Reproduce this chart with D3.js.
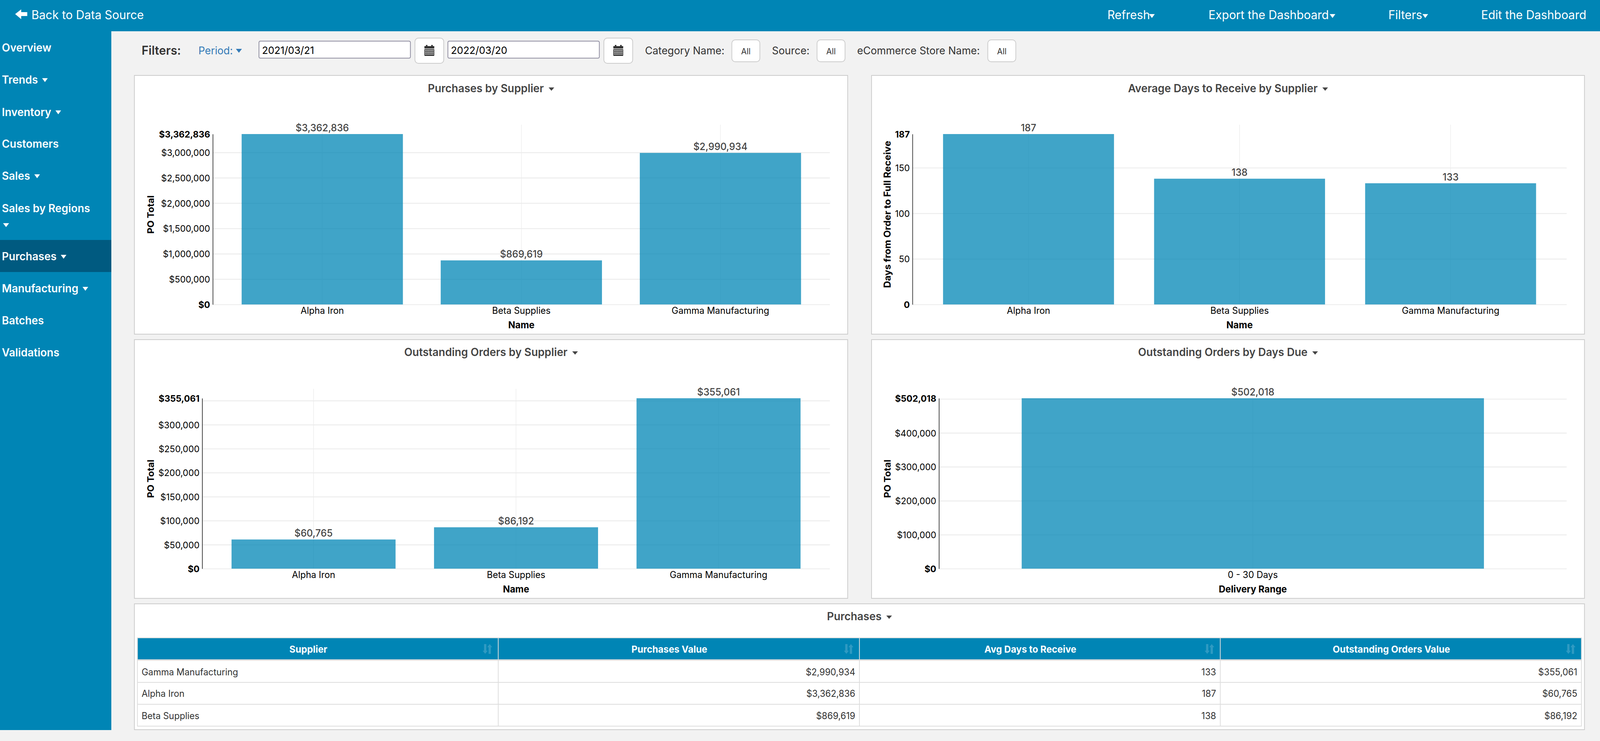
<!DOCTYPE html>
<html><head><meta charset="utf-8">
<script src="https://cdnjs.cloudflare.com/ajax/libs/d3/7.8.5/d3.min.js"></script>
<style>
html,body{margin:0;padding:0;background:#f2f2f2;overflow:hidden;width:100%;height:100%}
svg{display:block;width:100vw;height:100vh}
text{font-family:Inter,Roboto,sans-serif}
</style></head><body>
<svg id="page" viewBox="0 0 4226 1896" preserveAspectRatio="none"></svg>
<script>
// ---- data ----
const suppliers = ["Alpha Iron", "Beta Supplies", "Gamma Manufacturing"];
const purchasesValue = [3362836, 869619, 2990934];
const avgDaysToReceive = [187, 138, 133];
const outstandingValue = [60765, 86192, 355061];
const dueRanges = ["0 - 30 Days"];
const dueValue = [502018];
const purchasesGridTicks = [0, 500000, 1000000, 1500000, 2000000, 2500000, 3000000];
const daysGridTicks = [0, 50, 100, 150];
const outstandingGridTicks = [0, 50000, 100000, 150000, 200000, 250000, 300000, 350000];
const dueGridTicks = [0, 100000, 200000, 300000, 400000, 500000];
const outstandingHiddenTicks = [350000];
const dueHiddenTicks = [500000];
const navItems = ["Overview", "Trends", "Inventory", "Customers", "Sales", "Sales by Regions", "Purchases", "Manufacturing", "Batches", "Validations"];
const navWithCaret = ["Trends", "Inventory", "Sales", "Purchases", "Manufacturing"];
const topMenus = ["Refresh", "Export the Dashboard", "Filters", "Edit the Dashboard"];
const startDate = "2021/03/21";
const endDate = "2022/03/20";
const tableHeaders = ["Supplier", "Purchases Value", "Avg Days to Receive", "Outstanding Orders Value"];
const tableSuppliers = ["Gamma Manufacturing", "Alpha Iron", "Beta Supplies"];
const tablePurchases = [2990934, 3362836, 869619];
const tableDays = [133, 187, 138];
const tableOutstanding = [355061, 60765, 86192];

// ---- helpers ----
const BLUE = "#0085b5";
const svg = d3.select("#page");
const money = v => "$" + d3.format(",")(v);
const probe = svg.append("text").attr("visibility", "hidden");
function fit(s, weight, w) {
  probe.attr("font-size", 100).attr("font-weight", weight).text(s);
  return 100 * w / probe.node().getComputedTextLength();
}
const SZ = {
  top: fit("Export the Dashboard", 400, 318),
  nav: fit("Manufacturing", 600, 202),
  filterBold: fit("Filters:", 600, 104),
  period: fit("Period:", 400, 91),
  date: fit(endDate, 400, 149),
  filterLabel: fit("eCommerce Store Name:", 400, 324),
  all: fit("All", 400, 25),
  title: fit("Average Days to Receive by Supplier", 600, 501),
  tick: fit("$3,000,000", 400, 129.3),
  value: fit("$3,362,836", 500, 141),
  cat: fit("Gamma Manufacturing", 400, 258),
  name: fit("Delivery Range", 700, 180),
  th: fit("Outstanding Orders Value", 700, 310),
  td: fit("Gamma Manufacturing", 400, 255)
};
function label(g, x, y, s, o = {}) {
  return g.append("text").attr("x", x).attr("y", y).attr("dy", "0.36em")
    .attr("text-anchor", o.anchor || "start")
    .attr("font-size", o.size || SZ.tick)
    .attr("font-weight", o.weight || 400)
    .attr("fill", o.fill || "#333").text(s);
}
function caret(g, x, y, w, h, fill) {
  g.append("path").attr("d", `M${x},${y}h${w}l${-w / 2},${h}z`).attr("fill", fill);
}

// ---- chrome ----
svg.append("rect").attr("width", 4226).attr("height", 1896).attr("fill", "#f2f2f2");
svg.append("rect").attr("width", 4226).attr("height", 80).attr("fill", BLUE);
svg.append("rect").attr("y", 80).attr("width", 294).attr("height", 1788).attr("fill", BLUE);
svg.append("rect").attr("y", 614).attr("width", 294).attr("height", 82).attr("fill", "#005a80");

const top_ = svg.append("g");
top_.append("path").attr("d", "M40,36 L56,24 V31 H72 V41 H56 V49 Z").attr("fill", "#fff");
label(top_, 83, 37.5, "Back to Data Source", { size: SZ.top, fill: "#fff" });
const topX = [2925, 3192, 3667, 3912], topCaretX = [3035, 3512, 3757];
topMenus.forEach((m, i) => {
  label(top_, topX[i], 37.5, m, { size: SZ.top, fill: "#fff" });
  if (i < 3) caret(top_, topCaretX[i], 36, 15, 10, "#fff");
});

const navY = [122, 204, 286.5, 368, 450, 533, 656, 738, 820, 901.6];
const nav = svg.append("g");
navItems.forEach((n, i) => {
  const t = label(nav, 5, navY[i], n, { size: SZ.nav, weight: 600, fill: "#fff" });
  if (navWithCaret.includes(n)) {
    const w = t.node().getComputedTextLength();
    caret(nav, 5 + w + 11, navY[i] - 4, 15, 10, "#fff");
  }
});
caret(nav, 8, 571, 16, 10, "#fff");

// ---- filters ----
const fl = svg.append("g");
function btn(x, y, w, h, r) {
  fl.append("rect").attr("x", x + 1).attr("y", y + 1).attr("width", w - 2).attr("height", h - 2).attr("rx", r)
    .attr("fill", "#fff").attr("stroke", "#ccc").attr("stroke-width", 2);
}
function calendar(x, y) {
  const g = fl.append("g").attr("transform", `translate(${x},${y})`);
  g.append("path").attr("fill", "#333").attr("d", "M0,3h4v-3h4v3h10v-3h4v3h4v6h-26z");
  g.append("rect").attr("y", 10.5).attr("width", 26).attr("height", 17.5).attr("rx", 1).attr("fill", "#333");
  for (let r = 0; r < 3; r++) for (let c = 0; c < 6; c++)
    g.append("rect").attr("x", 2 + c * 3.9).attr("y", 12.5 + r * 4.6).attr("width", 2.6).attr("height", 3).attr("fill", "#ddd");
}
label(fl, 374, 129, "Filters:", { size: SZ.filterBold, weight: 600, fill: "#333" });
label(fl, 524, 129, "Period:", { size: SZ.period, fill: "#337ab7" });
caret(fl, 623, 125, 16, 10, "#337ab7");
[[683, 402, startDate], [1182, 402, endDate]].forEach(([x, w, d]) => {
  fl.append("rect").attr("x", x + 1).attr("y", 105.3).attr("width", w - 2).attr("height", 43.4).attr("rx", 3.5)
    .attr("fill", "#fff").attr("stroke", "#8f8da0").attr("stroke-width", 2);
  label(fl, x + 9, 129, d, { size: SZ.date, fill: "#000" });
  btn(x + 412, 96.5, 78, 66.5, 9);
  calendar(x + 438, 115);
});
[[1703.6, "Category Name:", 1932], [2039, "Source:", 2157], [2264, "eCommerce Store Name:", 2608]].forEach(([x, s, bx]) => {
  label(fl, x, 129, s, { size: SZ.filterLabel, fill: "#333" });
  btn(bx, 101, 76, 58, 9);
  label(fl, bx + 38, 131, "All", { size: SZ.all, anchor: "middle", fill: "#333" });
});

// ---- panels ----
function panel(x0, y0, x1, y1, title, titleY) {
  const g = svg.append("g");
  g.append("rect").attr("x", x0 + 1).attr("y", y0 + 1).attr("width", x1 - x0 - 2).attr("height", y1 - y0 - 2)
    .attr("fill", "#fff").attr("stroke", "#ccc").attr("stroke-width", 2);
  const t = label(g, 0, titleY, title, { size: SZ.title, weight: 600, fill: "#444" });
  const w = t.node().getComputedTextLength();
  const sx = (x0 + x1) / 2 - (w + 27.5) / 2;
  t.attr("x", sx);
  caret(g, sx + w + 12.5, titleY - 2, 15, 8.5, "#444");
  return g;
}

// ---- bar charts ----
function barChart(o) {
  const g = panel(o.box[0], o.box[1], o.box[2], o.box[3], o.title, o.titleY);
  const [L, R, T, B] = o.plot;
  const x = d3.scaleBand().domain(o.cats).range([L, R]).paddingInner(0.19).paddingOuter(0.145);
  const y = d3.scaleLinear().domain([0, d3.max(o.vals)]).range([B, T]);

  // vertical grid
  g.append("g").attr("transform", `translate(0,${B})`)
    .call(d3.axisBottom(x).tickSize(-(B - T + 24)).tickFormat(""))
    .call(s => s.select(".domain").remove())
    .call(s => s.selectAll("line").attr("stroke", "#ececec").attr("stroke-width", 1.4));
  // horizontal grid
  g.append("g").attr("transform", `translate(${L},0)`)
    .call(d3.axisLeft(y).tickValues(o.grid).tickSize(-(R - L)).tickFormat(""))
    .call(s => s.select(".domain").remove())
    .call(s => s.selectAll("line").attr("stroke", "#ebebeb").attr("stroke-width", 2.2));

  // bars
  g.selectAll("rect.bar").data(o.vals).enter().append("rect").attr("class", "bar")
    .attr("x", (d, i) => x(o.cats[i])).attr("width", x.bandwidth())
    .attr("y", d => y(d)).attr("height", d => B - y(d))
    .attr("fill", BLUE).attr("fill-opacity", 0.75);

  // value labels
  g.selectAll("text.val").data(o.vals).enter().append("text").attr("class", "val")
    .attr("x", (d, i) => x(o.cats[i]) + x.bandwidth() / 2).attr("y", d => y(d) - 16.5).attr("dy", "0.36em")
    .attr("text-anchor", "middle").attr("font-size", SZ.value).attr("font-weight", 500)
    .attr("fill", "#444").text(d => o.fmt(d));

  // y axis
  const hidden = o.hidden || [];
  const labelled = o.grid.filter(t => !hidden.includes(t)).concat([d3.max(o.vals)]);
  const ya = g.append("g").attr("transform", `translate(${L},0)`)
    .call(d3.axisLeft(y).tickValues(labelled).tickSize(0).tickPadding(7).tickFormat(o.fmt));
  ya.select(".domain").attr("stroke", "#444").attr("stroke-width", 2);
  ya.selectAll("text").attr("font-size", SZ.tick).attr("fill", "#000").attr("dy", "0.36em")
    .attr("font-family", "Inter,Roboto,sans-serif")
    .attr("font-weight", d => (d === 0 || d === d3.max(o.vals)) ? 700 : 400);

  // x axis labels
  const xa = g.append("g").attr("transform", `translate(0,${B})`)
    .call(d3.axisBottom(x).tickSize(0));
  xa.select(".domain").remove();
  xa.selectAll("text").attr("y", 15).attr("dy", "0.36em").attr("font-size", SZ.cat).attr("fill", "#000")
    .attr("font-family", "Inter,Roboto,sans-serif");

  // axis titles
  label(g, (L + R) / 2, o.nameY, o.xTitle, { size: SZ.name, weight: 700, anchor: "middle", fill: "#000" });
  g.append("text").attr("transform", `translate(${o.yTitleX},${o.yTitleY}) rotate(-90)`)
    .attr("dy", "0.36em").attr("text-anchor", "middle").attr("font-size", fit(o.yTitle, 700, o.yTitleLen)).attr("font-weight", 700)
    .attr("fill", "#000").text(o.yTitle);
}

barChart({ box: [354, 192, 2240, 856], title: "Purchases by Supplier", titleY: 225.7, plot: [562, 2192, 343, 779],
  cats: suppliers, vals: purchasesValue, grid: purchasesGridTicks, fmt: money, xTitle: "Name", nameY: 831,
  yTitle: "PO Total", yTitleLen: 98, yTitleX: 397.5, yTitleY: 549 });
barChart({ box: [2301, 192, 4186, 856], title: "Average Days to Receive by Supplier", titleY: 225.7, plot: [2410, 4138, 343, 779],
  cats: suppliers, vals: avgDaysToReceive, grid: daysGridTicks, fmt: d3.format("d"), xTitle: "Name", nameY: 831,
  yTitle: "Days from Order to Full Receive", yTitleLen: 377, yTitleX: 2343.5, yTitleY: 548.5 });
barChart({ box: [354, 868, 2240, 1532], title: "Outstanding Orders by Supplier", titleY: 901, plot: [534, 2192, 1019, 1455],
  cats: suppliers, vals: outstandingValue, grid: outstandingGridTicks, hidden: outstandingHiddenTicks, fmt: money, xTitle: "Name", nameY: 1507,
  yTitle: "PO Total", yTitleLen: 98, yTitleX: 397.5, yTitleY: 1225 });
barChart({ box: [2301, 868, 4186, 1532], title: "Outstanding Orders by Days Due", titleY: 901, plot: [2480, 4138, 1019, 1455],
  cats: dueRanges, vals: dueValue, grid: dueGridTicks, hidden: dueHiddenTicks, fmt: money, xTitle: "Delivery Range", nameY: 1507,
  yTitle: "PO Total", yTitleLen: 98, yTitleX: 2343.5, yTitleY: 1225 });

// ---- table ----
const tp = panel(354, 1544, 4186, 1868, "Purchases", 1577);
const colX = [363, 1316, 2270, 3223, 4177];
const rowLines = [1690, 1746, 1802, 1858];
const rowY = [1719, 1775, 1832];
const tw = colX[4] - colX[0];
tp.append("rect").attr("x", colX[0]).attr("y", 1631).attr("width", tw).attr("height", 2).attr("fill", "#ddd");
tp.append("rect").attr("x", colX[0]).attr("y", 1633).attr("width", tw).attr("height", 54).attr("fill", BLUE);
tp.append("rect").attr("x", colX[0]).attr("y", 1687).attr("width", tw).attr("height", 3.5).attr("fill", "#ddd");
rowLines.slice(1).forEach(y => tp.append("rect").attr("x", colX[0]).attr("y", y - 1).attr("width", tw).attr("height", 2).attr("fill", "#ddd"));
colX.forEach(x => tp.append("rect").attr("x", x - 1).attr("y", 1631).attr("width", 2).attr("height", 228).attr("fill", "#ddd"));
tableHeaders.forEach((h, i) => {
  const c = (colX[i] + colX[i + 1]) / 2 - 25;
  label(tp, c, 1661, h, { size: SZ.th, weight: 700, anchor: "middle", fill: "#fff" });
  const sx = colX[i + 1] - 41;
  tp.append("path").attr("fill", "#2f9ac2").attr("d", `M${sx + 3.5},1648h6v17h3.5l-6.5,8l-6.5,-8h3.5z`);
  tp.append("path").attr("fill", "#2f9ac2").attr("d", `M${sx + 18.5},1648l6.5,8h-3.5v17h-6v-17h-3.5z`);
});
const cells = [tableSuppliers, tablePurchases.map(money), tableDays.map(String), tableOutstanding.map(money)];
cells.forEach((col, i) => col.forEach((v, r) => {
  if (i === 0) label(tp, colX[0] + 11, rowY[r], v, { size: SZ.td, fill: "#333" });
  else label(tp, colX[i + 1] - 11, rowY[r], v, { size: SZ.td, fill: "#333", anchor: "end" });
}));
probe.remove();
</script>
</body></html>
